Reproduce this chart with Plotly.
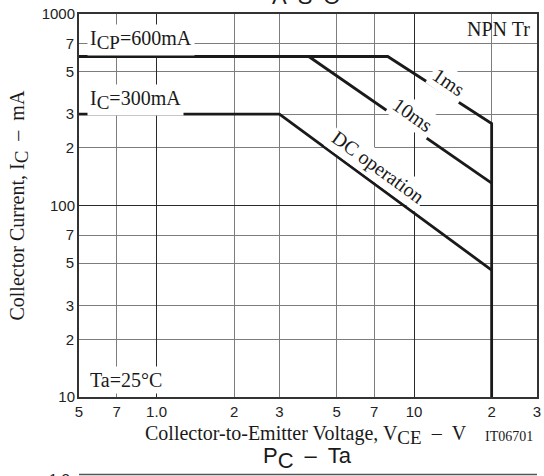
import math
import plotly.graph_objects as go

# ---------------- data ----------------
vce_1ms = [0.5, 7.9, 20, 20]
ic_1ms = [600, 600, 268, 10]
vce_10ms = [3.9, 20]
ic_10ms = [600, 131]
vce_dc = [0.5, 3.0, 20]
ic_dc = [300, 300, 46]

x_minor_vals = [0.5, 0.7, 2, 3, 5, 7, 20, 30]
x_minor_text = ["5", "7", "2", "3", "5", "7", "2", "3"]
x_major_vals = [1, 10]
x_major_text = ["1.0", "10"]
y_minor_vals = [20, 30, 50, 70, 200, 300, 500, 700]
y_minor_text = ["2", "3", "5", "7", "2", "3", "5", "7"]
y_major_vals = [10, 100, 1000]
y_major_text = ["10", "100", "1000"]

# ---------------- layout helpers ----------------
W, H = 544, 476
L, T, R, B = 79, 14, 3, 79
PW, PH = W - L - R, H - T - B


def px(x):
    return (x - L) / PW


def py(y):
    return (T + PH - y) / PH


def sub(t, size):
    return "<sub><span style='font-size:%dpx'>%s</span></sub>" % (size, t)


XR = [math.log10(0.5), math.log10(30)]
YR = [1, 3]
SERIF = "Liberation Serif"
SANS = "Liberation Sans"
INK = "#1a1a1a"

fig = go.Figure()
line = dict(color=INK, width=2.8)
fig.add_trace(go.Scatter(x=vce_1ms, y=ic_1ms, mode="lines", line=line,
                         hoverinfo="skip", showlegend=False))
fig.add_trace(go.Scatter(x=vce_10ms, y=ic_10ms, mode="lines", line=line,
                         hoverinfo="skip", showlegend=False))
fig.add_trace(go.Scatter(x=vce_dc, y=ic_dc, mode="lines", line=line,
                         xaxis="x2", yaxis="y2",
                         hoverinfo="skip", showlegend=False))

tickfont = dict(family=SANS, size=15, color="#222")
common = dict(type="log", showgrid=True, gridwidth=1.2, zeroline=False, ticks="",
              tickfont=tickfont, fixedrange=True)

fig.update_layout(
    width=W, height=H,
    margin=dict(l=L, r=R, t=T, b=B, pad=0),
    paper_bgcolor="white", plot_bgcolor="white",
    xaxis=dict(common, range=XR, tickmode="array", tickvals=x_minor_vals,
               ticktext=x_minor_text, gridcolor="#7d7d7d",
               showline=True, mirror=True, linecolor="#333", linewidth=1.6),
    yaxis=dict(common, range=YR, tickmode="array", tickvals=y_minor_vals,
               ticktext=y_minor_text, gridcolor="#7d7d7d",
               showline=True, mirror=True, linecolor="#333", linewidth=1.6),
    xaxis2=dict(common, range=XR, overlaying="x", anchor="y2", side="bottom",
                tickmode="array", tickvals=x_major_vals, ticktext=x_major_text,
                gridcolor="#2a2a2a", showline=False, ticklabelstandoff=4),
    yaxis2=dict(common, range=YR, overlaying="y", anchor="x2", side="left",
                tickmode="array", tickvals=y_major_vals, ticktext=y_major_text,
                gridcolor="#2a2a2a", showline=False, ticklabelstandoff=3),
)

ann = []


def add(text, x, y, size=20, family=SERIF, xanchor="center", yanchor="middle",
        angle=0, bg=None, color=INK):
    a = dict(text=text, x=x, y=y, xref="paper", yref="paper", showarrow=False,
             xanchor=xanchor, yanchor=yanchor, textangle=angle,
             font=dict(family=family, size=size, color=color))
    if bg:
        a.update(bgcolor=bg, borderpad=2)
    ann.append(a)


add("A\u2002S\u2002O", px(308), py(11), size=22, family=SANS, yanchor="bottom")
add("I" + sub("CP", 19) + "=600mA", px(87), py(40), xanchor="left", bg="white")
add("I" + sub("C", 19) + "=300mA", px(87), py(100), xanchor="left", bg="white")
add("Ta=25°C", px(87), py(380), xanchor="left", bg="white")
add("NPN Tr", px(536), py(29), xanchor="right")
add("1ms", px(452), py(82), angle=34, bg="white")
add("10ms", px(416), py(115), angle=35, bg="white")
add("DC operation", px(381), py(167), angle=36, bg="white")
add("Collector Current, I" + sub("C", 19) + "\u2002–\u2002mA", px(18), py(206), angle=-90)
add("Collector-to-Emitter Voltage, V" + sub("CE", 19) + "\u2002–\u2002V", px(308), py(435))
add("IT06701", px(539), py(436), size=14, xanchor="right")
add("P" + sub("C", 22) + "\u2002–\u2002Ta", px(309), py(458), size=22, family=SANS)
add("1.2", px(72), py(468), size=15, family=SANS, xanchor="right", yanchor="top",
    color="#222")
fig.update_layout(annotations=ann)

fig.add_shape(type="line", xref="paper", yref="paper", x0=0, x1=1,
              y0=py(474.5), y1=py(474.5), line=dict(color="#555", width=1.5))

fig.write_html("out.html", config={"displayModeBar": False},
               post_script="document.body.style.margin='0';")
